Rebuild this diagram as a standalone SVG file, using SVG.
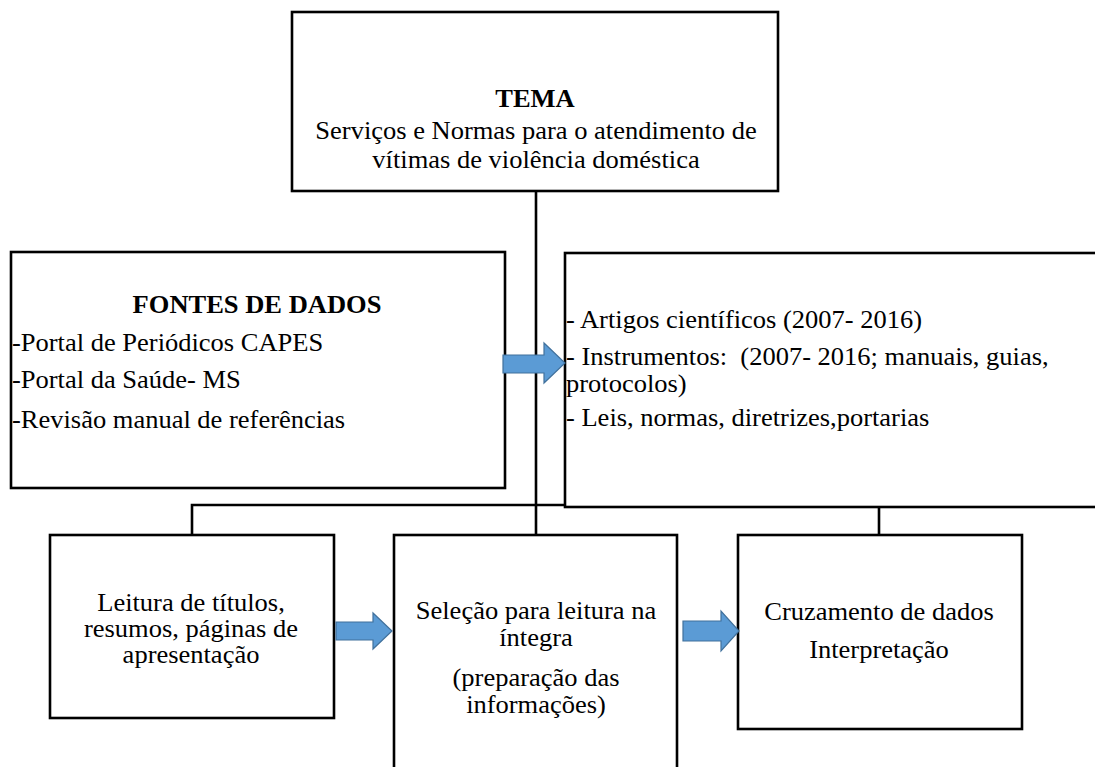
<svg xmlns="http://www.w3.org/2000/svg" width="1095" height="767" viewBox="0 0 1095 767">
<style>
.box{fill:#fff;stroke:#000;stroke-width:2.6}
.con{fill:none;stroke:#000;stroke-width:2.6}
.arr{fill:#5B9BD5;stroke:#41719C;stroke-width:1.2}
text{font-family:"Liberation Serif","Times New Roman",serif;fill:#000}
.t{font-size:25px}
.b{font-size:25px;font-weight:bold}
.s{font-size:25px}
</style>
<rect width="1095" height="767" fill="#fff"/>
<g id="connectors">
<path class="con" d="M536,191 V535"/>
<path class="con" d="M192,534 V505 H879 V535"/>
</g>
<g id="tema">
<rect class="box" x="292" y="12" width="486" height="179"/>
<text class="b" text-anchor="middle" transform="translate(535,107) scale(1.06,1)">TEMA</text>
<text class="t" text-anchor="middle" transform="translate(536,139) scale(1.06,1)">Serviços e Normas para o atendimento de</text>
<text class="t" text-anchor="middle" transform="translate(536,168) scale(1.06,1)">vítimas de violência doméstica</text>
</g>
<g id="fontes">
<rect class="box" x="11" y="252" width="494" height="236"/>
<text class="b" text-anchor="middle" transform="translate(257,313) scale(1.06,1)">FONTES DE DADOS</text>
<text class="t" transform="translate(12,351) scale(1.06,1)">-Portal de Periódicos CAPES</text>
<text class="t" transform="translate(12,388) scale(1.06,1)">-Portal da Saúde- MS</text>
<text class="t" transform="translate(12,428) scale(1.06,1)">-Revisão manual de referências</text>
</g>
<g id="materiais">
<rect class="box" x="565" y="253" width="540" height="254"/>
<text class="t" transform="translate(566,328) scale(1.06,1)">- Artigos científicos (2007- 2016)</text>
<text class="t" xml:space="preserve" transform="translate(566,365) scale(1.06,1)">- Instrumentos:  (2007- 2016; manuais, guias,</text>
<text class="t" transform="translate(566,392) scale(1.06,1)">protocolos)</text>
<text class="t" transform="translate(566,426) scale(1.06,1)">- Leis, normas, diretrizes,portarias</text>
</g>
<g id="leitura">
<rect class="box" x="50" y="535" width="284" height="183"/>
<text class="s" text-anchor="middle" transform="translate(191,611) scale(1.06,1)">Leitura de títulos,</text>
<text class="s" text-anchor="middle" transform="translate(191,637) scale(1.06,1)">resumos, páginas de</text>
<text class="s" text-anchor="middle" transform="translate(191,663) scale(1.06,1)">apresentação</text>
</g>
<g id="selecao">
<rect class="box" x="394" y="535" width="283" height="240"/>
<text class="s" text-anchor="middle" transform="translate(536,619) scale(1.06,1)">Seleção para leitura na</text>
<text class="s" text-anchor="middle" transform="translate(536,646) scale(1.06,1)">íntegra</text>
<text class="s" text-anchor="middle" transform="translate(536,686) scale(1.06,1)">(preparação das</text>
<text class="s" text-anchor="middle" transform="translate(536,713) scale(1.06,1)">informações)</text>
</g>
<g id="cruzamento">
<rect class="box" x="738" y="535" width="284" height="194"/>
<text class="s" text-anchor="middle" transform="translate(879,620) scale(1.06,1)">Cruzamento de dados</text>
<text class="s" text-anchor="middle" transform="translate(879,658) scale(1.06,1)">Interpretação</text>
</g>
<g id="arrows">
<path class="arr" d="M503,355 H544 V343 L565,363 L544,383 V373 H503 Z"/>
<path class="arr" d="M336,622 H373 V613 L392,631 L373,649 V640 H336 Z"/>
<path class="arr" d="M683,621 H721 V611 L739,631 L721,651 V641 H683 Z"/>
</g>
</svg>
